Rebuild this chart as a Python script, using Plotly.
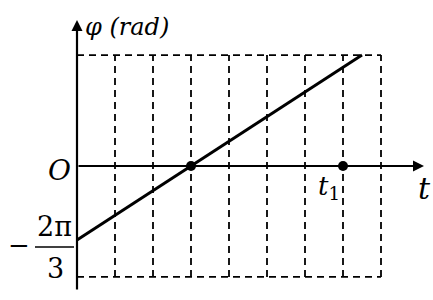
import math
import plotly.graph_objects as go

# ---- data ----
t_line = [0, 3, 7.5]
phi_line = [-2 * math.pi / 3, 0, math.pi]
grid_t = [1, 2, 3, 4, 5, 6, 7, 8]
phi_max = math.pi
dot_t = [3, 7]
dot_phi = [0, 0]

W, H = 433, 300
X0, SX = 77, 38.0      # pixel of t=0, px per t unit
Y0, SY = 166, 35.3     # pixel of phi=0, px per rad

def tx(px):
    return (px - X0) / SX

def ty(py):
    return (Y0 - py) / SY

FONT = "DejaVu Serif"
fig = go.Figure()

# dashed box + verticals
dash = dict(color="black", width=1.8, dash="7px,5px")
for t in grid_t:
    fig.add_shape(type="line", x0=t, x1=t, y0=-phi_max, y1=phi_max,
                  xref="x", yref="y", line=dash)
for p in (phi_max, -phi_max):
    fig.add_shape(type="line", x0=0, x1=grid_t[-1], y0=p, y1=p,
                  xref="x", yref="y", line=dash)

# main line
fig.add_trace(go.Scatter(x=t_line, y=phi_line, mode="lines",
                         line=dict(color="black", width=3), hoverinfo="skip"))
# dots
fig.add_trace(go.Scatter(x=dot_t, y=dot_phi, mode="markers",
                         marker=dict(color="black", size=10), hoverinfo="skip"))

# axes with arrows
fig.add_annotation(x=tx(424), y=0, ax=0, ay=0, xref="x", yref="y",
                   axref="x", ayref="y", text="", showarrow=True,
                   arrowhead=2, arrowsize=1.0, arrowwidth=2.2, arrowcolor="black")
fig.add_annotation(x=0, y=ty(20), ax=0, ay=ty(291), xref="x", yref="y",
                   axref="x", ayref="y", text="", showarrow=True,
                   arrowhead=2, arrowsize=1.0, arrowwidth=2.2, arrowcolor="black")

def lab(px, py, text, size=26, xanchor="center"):
    fig.add_annotation(x=px / W, y=1 - py / H, xref="paper", yref="paper",
                       text=text, showarrow=False, xanchor=xanchor, yanchor="middle",
                       font=dict(family=FONT, size=size, color="black"))

lab(83, 27, "<i>φ (rad)</i>", size=24, xanchor="left")
lab(60, 170, "<i>O</i>", size=28)
lab(424, 188, "<i>t</i>", size=30)
lab(329, 187, "<i>t</i><sub>1</sub>", size=26)
lab(19, 245, "−", size=26)
lab(54, 226, "2π", size=27)
lab(55, 268, "3", size=27)
fig.add_shape(type="line", xref="paper", yref="paper",
              x0=35 / W, x1=74 / W, y0=1 - 247 / H, y1=1 - 247 / H,
              line=dict(color="black", width=1.5))

fig.update_layout(width=W, height=H, margin=dict(l=0, r=0, t=0, b=0),
                  plot_bgcolor="white", paper_bgcolor="white", showlegend=False,
                  xaxis=dict(range=[tx(0), tx(W)], visible=False, fixedrange=True),
                  yaxis=dict(range=[ty(H), ty(0)], visible=False, fixedrange=True))

fig.write_html("out.html")
